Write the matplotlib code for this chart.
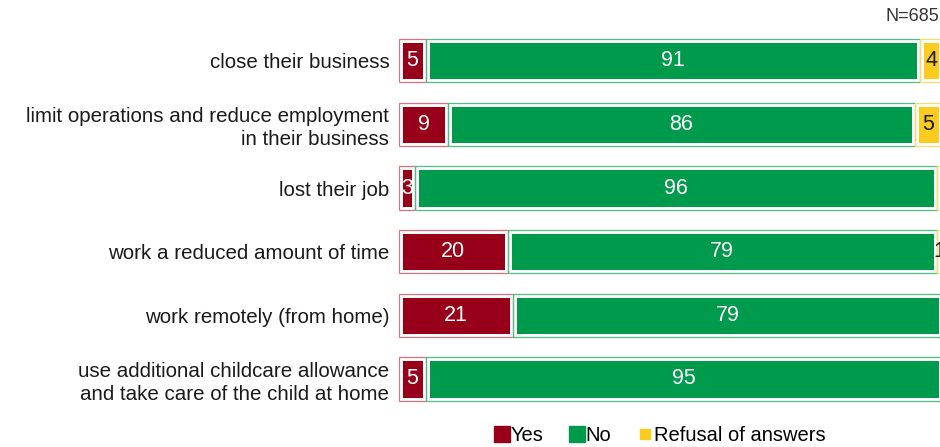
import matplotlib
matplotlib.use('Agg')
import matplotlib.pyplot as plt
from matplotlib.lines import Line2D

plt.rcParams['font.family'] = ['Liberation Sans', 'DejaVu Sans']

# Data
categories = [
    'close their business',
    'limit operations and reduce employment\nin their business',
    'lost their job',
    'work a reduced amount of time',
    'work remotely (from home)',
    'use additional childcare allowance\nand take care of the child at home',
]
yes = [5, 9, 3, 20, 21, 5]
no = [91, 86, 96, 79, 79, 95]
refusal = [4, 5, 1, 1, 0, 0]
refusal_labels = ['4', '5', '', '1', '', '']
series_names = ['Yes', 'No', 'Refusal of answers']

red = '#98001a'
green = '#009a4d'
yellow = '#fbcb1f'
red_line = '#d9707e'
green_line = '#4cbf85'
yellow_line = '#fbdb6a'

fig = plt.figure(figsize=(9.40, 4.47), dpi=100)
ax = fig.add_axes([0.4245, 0.081, 0.5777, 0.854])

ypos = list(range(len(categories)))
h = 0.68

lefts_no = yes
lefts_ref = [a + b for a, b in zip(yes, no)]

# filled segments with a white inner border
ax.barh(ypos, yes, height=h, color=red, edgecolor='white', linewidth=5)
ax.barh(ypos, no, left=lefts_no, height=h, color=green, edgecolor='white', linewidth=5)
ax.barh(ypos, refusal, left=lefts_ref, height=h, color=yellow, edgecolor='white', linewidth=5)

# thin outer outline
ax.barh(ypos, yes, height=h, facecolor='none', edgecolor=red_line, linewidth=0.9)
ax.barh(ypos, no, left=lefts_no, height=h, facecolor='none', edgecolor=green_line, linewidth=0.9)
for y, l, w in zip(ypos, lefts_ref, refusal):
    if w > 0:
        ax.barh(y, w, left=l, height=h, facecolor='none', edgecolor=yellow_line, linewidth=0.9)

# value labels
for y in ypos:
    ax.text(yes[y] / 2, y, str(yes[y]), ha='center', va='center', color='white', fontsize=15.5)
    ax.text(yes[y] + no[y] / 2, y, str(no[y]), ha='center', va='center', color='white', fontsize=15.5)
    if refusal_labels[y]:
        ax.text(lefts_ref[y] + refusal[y] / 2, y, refusal_labels[y], ha='center', va='center',
                color='#1a1a1a', fontsize=15.5)

ax.set_xlim(0, 100)
ax.set_ylim(len(categories) - 0.5, -0.5)
ax.set_yticks(ypos)
ax.set_yticklabels(categories, fontsize=14.8, color='#1a1a1a', linespacing=1.25)
ax.tick_params(axis='y', length=0, pad=7)
ax.set_xticks([])
for s in ax.spines.values():
    s.set_visible(False)

fig.text(0.999, 0.962, 'N=685', ha='right', va='center', fontsize=13, color='#333333')

handles = [
    Line2D([], [], marker='s', linestyle='none', markersize=11, color=red),
    Line2D([], [], marker='s', linestyle='none', markersize=11, color=green),
    Line2D([], [], marker='s', linestyle='none', markersize=7, color=yellow),
]
fig.legend(handles, series_names, loc='center', bbox_to_anchor=(0.702, 0.025), ncol=3,
           frameon=False, fontsize=14.5, handletextpad=0.05, columnspacing=1.3,
           handlelength=0.75, borderaxespad=0, borderpad=0)

fig.savefig('out.png', dpi=100)
